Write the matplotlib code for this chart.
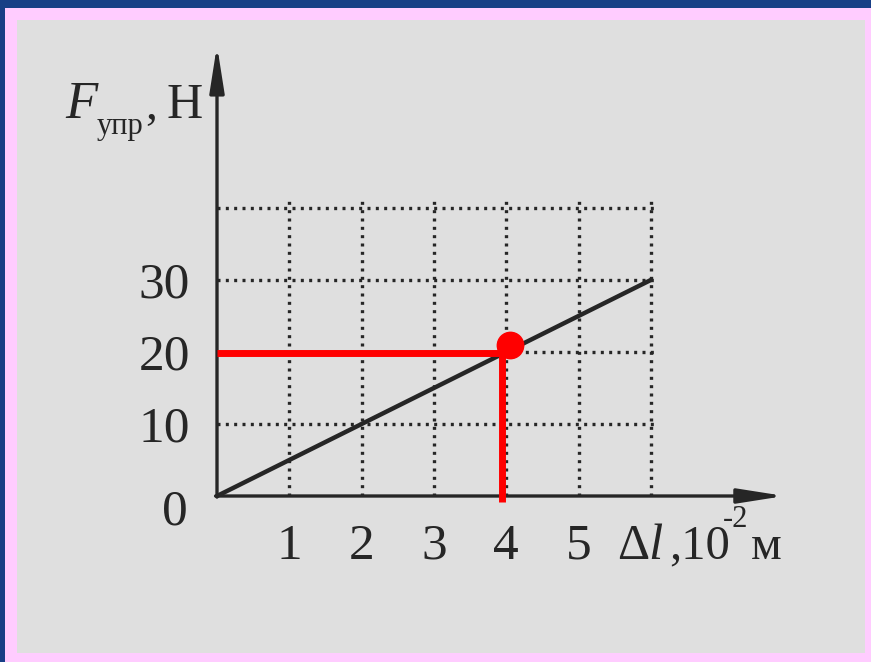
import numpy as np
import matplotlib.pyplot as plt
from matplotlib.patches import Rectangle

plt.rcParams['font.family'] = ['Liberation Serif', 'DejaVu Serif']

# Data
dl = [0, 6]             # elongation, 10^-2 m
force = [0, 30]         # spring force, N
x_ticks = [1, 2, 3, 4, 5]
y_ticks = [10, 20, 30]
grid_x = [1, 2, 3, 4, 5, 6]
grid_y = [10, 20, 30, 40]
# red construction (hand drawn, slightly off the grid)
red_x = 3.94
red_y = 19.9
point_x = 4.05
point_y = 21.0

ink = '#262626'

fig = plt.figure(figsize=(8.71, 6.62), dpi=100)
fig.patch.set_facecolor('#173f86')
# pink frame and grey paper
fig.add_artist(Rectangle((5/871, 0), 866/871, 654/662, transform=fig.transFigure,
                         facecolor='#ffccff', edgecolor='none', zorder=-2))
fig.add_artist(Rectangle((17/871, 9/662), 848/871, 633/662, transform=fig.transFigure,
                         facecolor='#dfdfdf', edgecolor='none', zorder=-1))

ax = fig.add_axes([0, 0, 1, 1])
ax.set_xlim(-217/72.3, (871-217)/72.3)
ax.set_ylim(-(662-496)/7.2, 496/7.2)
ax.axis('off')

# dotted grid
for gx in grid_x:
    ax.plot([gx, gx], [0, 41.3], color=ink, lw=2.4, ls=(0, (0.9, 1.6)), zorder=2)
for gy in grid_y:
    ax.plot([0, 6.05], [gy, gy], color=ink, lw=2.4, ls=(0, (0.9, 1.6)), zorder=2)

# axes with arrows
arrow = dict(arrowstyle='-|>,head_length=1.4,head_width=0.22', lw=2.4, color=ink,
             shrinkA=0, shrinkB=0, mutation_scale=20)
ax.annotate('', xy=(0, 62.6), xytext=(0, -0.15), arrowprops=arrow, zorder=3)
ax.annotate('', xy=(7.85, 0), xytext=(-0.02, 0), arrowprops=arrow, zorder=3)

# the graph
ax.plot(dl, force, color=ink, lw=3.2, solid_capstyle='round', zorder=4)

# tick labels
for t in y_ticks:
    ax.text(-0.37, t - 2.4, str(t), ha='right', va='baseline', fontsize=37, color=ink)
ax.text(-0.40, -4.0, '0', ha='right', va='baseline', fontsize=37, color=ink)
for t in x_ticks:
    ax.text(t, -8.7, str(t), ha='center', va='baseline', fontsize=37, color=ink)

# x axis label: Δl,10^-2 м
ax.text(5.53, -8.7, 'Δ', ha='left', va='baseline', fontsize=36, color=ink)
ax.text(5.96, -8.7, 'l', ha='left', va='baseline', fontsize=37, style='italic', color=ink)
ax.text(6.25, -8.7, ',10', ha='left', va='baseline', fontsize=35, color=ink)
ax.text(7.00, -4.3, '-2', ha='left', va='baseline', fontsize=22, color=ink)
ax.text(7.38, -8.7, 'м', ha='left', va='baseline', fontsize=35, color=ink)

# y axis label: F_упр, Н
ax.text(-2.10, 52.5, 'F', ha='left', va='baseline', fontsize=38, style='italic', color=ink)
ax.text(-1.66, 50.3, 'упр', ha='left', va='baseline', fontsize=22, color=ink)
ax.text(-0.99, 52.3, ',', ha='left', va='baseline', fontsize=34, color=ink)
ax.text(-0.70, 52.5, 'Н', ha='left', va='baseline', fontsize=36, color=ink)

# red construction
ax.plot([0, point_x], [red_y, red_y], color='#ff0000', lw=5, solid_capstyle='butt', zorder=5)
ax.plot([red_x, red_x], [-0.8, red_y], color='#ff0000', lw=5, solid_capstyle='butt', zorder=5)
ax.plot([point_x], [point_y], 'o', color='#ff0000', markersize=19, zorder=6)

fig.savefig('out.png', dpi=100)
